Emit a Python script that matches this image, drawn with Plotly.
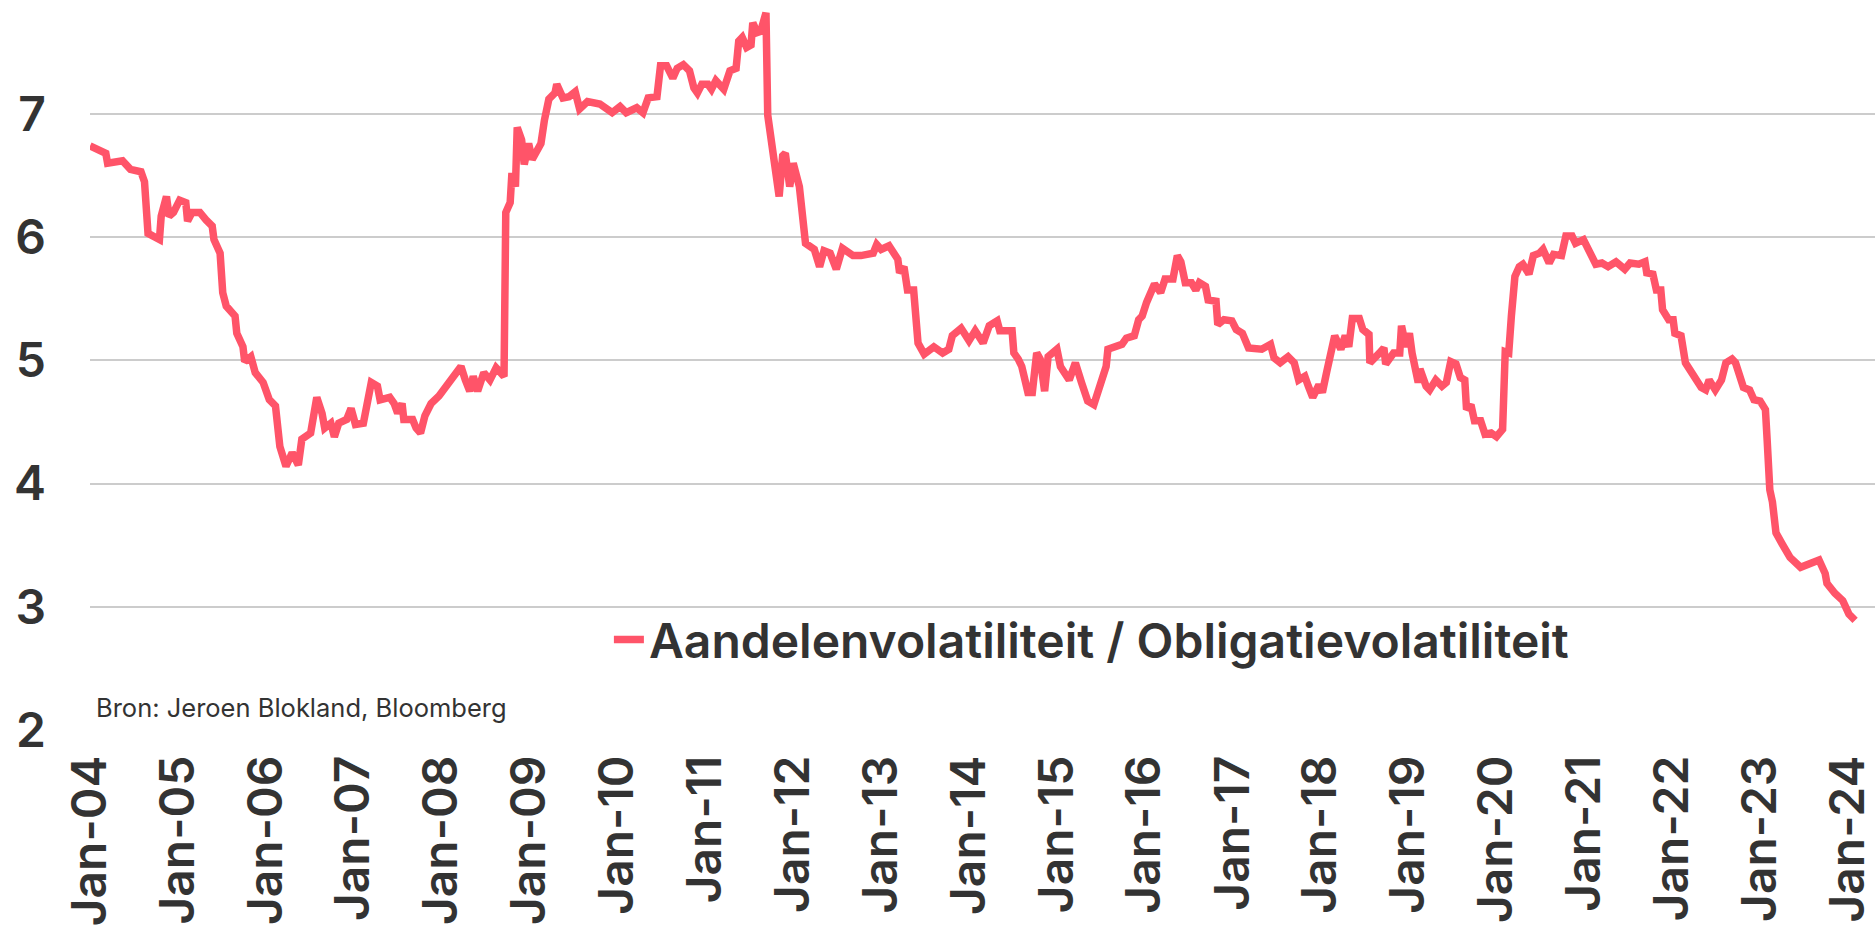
import pandas as pd
import plotly.graph_objects as go

# Decimal years and ratio values
years = [
    2004.00, 2004.18, 2004.20, 2004.37, 2004.46, 2004.58, 2004.62, 2004.66, 2004.79, 2004.81,
    2004.87, 2004.90, 2004.95, 2005.02, 2005.09, 2005.11, 2005.16, 2005.25, 2005.32, 2005.39,
    2005.41, 2005.48, 2005.51, 2005.55, 2005.65, 2005.67, 2005.74, 2005.76, 2005.83, 2005.88,
    2005.97, 2006.04, 2006.11, 2006.16, 2006.23, 2006.30, 2006.37, 2006.41, 2006.51, 2006.58,
    2006.64, 2006.67, 2006.74, 2006.78, 2006.83, 2006.92, 2006.97, 2007.02, 2007.11, 2007.16,
    2007.20, 2007.27, 2007.30, 2007.41, 2007.46, 2007.50, 2007.55, 2007.57, 2007.67, 2007.71,
    2007.76, 2007.81, 2007.88, 2007.97, 2008.02, 2008.08, 2008.15, 2008.22, 2008.27, 2008.32,
    2008.36, 2008.41, 2008.48, 2008.55, 2008.62, 2008.66, 2008.71, 2008.73, 2008.78, 2008.80,
    2008.84, 2008.86, 2008.91, 2008.94, 2008.99, 2009.03, 2009.08, 2009.13, 2009.17, 2009.22,
    2009.29, 2009.31, 2009.38, 2009.45, 2009.52, 2009.57, 2009.66, 2009.80, 2009.94,
    2010.03, 2010.10, 2010.22, 2010.29, 2010.35, 2010.45, 2010.49, 2010.56, 2010.63, 2010.68,
    2010.75, 2010.82, 2010.87, 2010.91, 2010.96, 2011.03, 2011.07, 2011.12, 2011.21, 2011.28,
    2011.35, 2011.38, 2011.42, 2011.47, 2011.52, 2011.54, 2011.59, 2011.63, 2011.69, 2011.71,
    2011.75, 2011.79, 2011.84, 2011.88, 2011.91, 2011.96, 2012.00, 2012.07, 2012.10, 2012.14,
    2012.24, 2012.30, 2012.35, 2012.42, 2012.49, 2012.56, 2012.68, 2012.77, 2012.91, 2012.95,
    2013.00, 2013.09, 2013.19, 2013.21, 2013.26, 2013.30, 2013.37, 2013.42, 2013.49, 2013.60,
    2013.70, 2013.77, 2013.81, 2013.91, 2014.00, 2014.07, 2014.16, 2014.23, 2014.32, 2014.35,
    2014.49, 2014.51, 2014.56, 2014.60, 2014.67, 2014.72, 2014.77, 2014.81, 2014.86, 2014.90,
    2015.00, 2015.04, 2015.14, 2015.21, 2015.28, 2015.35, 2015.42, 2015.49, 2015.56, 2015.58,
    2015.67, 2015.74, 2015.79, 2015.88, 2015.93, 2015.97, 2016.02, 2016.07, 2016.11, 2016.18,
    2016.23, 2016.32, 2016.37, 2016.41, 2016.46, 2016.53, 2016.58, 2016.62, 2016.69, 2016.72,
    2016.81, 2016.83, 2016.90, 2016.99, 2017.04, 2017.11, 2017.18,
    2017.33, 2017.43, 2017.47, 2017.54, 2017.63, 2017.70, 2017.75, 2017.82, 2017.86, 2017.91,
    2017.98, 2018.02, 2018.07, 2018.12, 2018.16, 2018.23, 2018.28, 2018.32, 2018.36, 2018.44,
    2018.48, 2018.55, 2018.56, 2018.67, 2018.72, 2018.74, 2018.83, 2018.90, 2018.92, 2018.97,
    2019.01, 2019.04, 2019.11, 2019.13, 2019.20, 2019.24, 2019.31, 2019.38, 2019.43, 2019.48,
    2019.54, 2019.59, 2019.64, 2019.66, 2019.71, 2019.75, 2019.82, 2019.87, 2019.94, 2020.00,
    2020.07, 2020.10, 2020.14, 2020.17, 2020.21, 2020.26, 2020.30, 2020.37, 2020.42, 2020.49,
    2020.53, 2020.60, 2020.65, 2020.74, 2020.79, 2020.86, 2020.90, 2020.99, 2021.06, 2021.13,
    2021.20, 2021.27, 2021.36, 2021.46, 2021.52, 2021.62, 2021.69, 2021.71, 2021.78, 2021.82,
    2021.87, 2021.89, 2021.96, 2022.01, 2022.03, 2022.10, 2022.15, 2022.22, 2022.28, 2022.33,
    2022.38, 2022.42, 2022.49, 2022.56, 2022.61, 2022.68, 2022.72, 2022.77, 2022.81, 2022.88,
    2022.93, 2023.00, 2023.06, 2023.08, 2023.11, 2023.14, 2023.18, 2023.25, 2023.34, 2023.46,
    2023.57, 2023.67, 2023.74, 2023.76, 2023.85, 2023.94, 2024.01, 2024.08,
]

ratio = [
    6.74, 6.68, 6.60, 6.62, 6.55, 6.53, 6.45, 6.03, 5.98, 6.17,
    6.33, 6.17, 6.20, 6.30, 6.28, 6.13, 6.20, 6.20, 6.14, 6.09,
    5.98, 5.87, 5.55, 5.44, 5.36, 5.22, 5.11, 4.99, 5.03, 4.90,
    4.82, 4.68, 4.63, 4.30, 4.14, 4.25, 4.15, 4.36, 4.41, 4.70,
    4.57, 4.45, 4.49, 4.38, 4.49, 4.52, 4.61, 4.48, 4.49, 4.65,
    4.82, 4.79, 4.68, 4.70, 4.65, 4.57, 4.65, 4.52, 4.52, 4.45,
    4.41, 4.55, 4.65, 4.71, 4.76, 4.82, 4.90, 4.95, 4.84, 4.75,
    4.87, 4.75, 4.90, 4.84, 4.94, 4.90, 4.87, 6.20, 6.28, 6.52,
    6.41, 6.89, 6.79, 6.59, 6.76, 6.63, 6.71, 6.76, 6.95, 7.12,
    7.17, 7.24, 7.13, 7.14, 7.18, 7.04, 7.10, 7.08, 7.01,
    7.06, 7.01, 7.05, 7.01, 7.13, 7.14, 7.39, 7.39, 7.29, 7.37,
    7.40, 7.35, 7.21, 7.17, 7.24, 7.24, 7.20, 7.27, 7.20, 7.35,
    7.37, 7.59, 7.62, 7.54, 7.56, 7.74, 7.66, 7.67, 7.82, 6.99,
    6.79, 6.68, 6.33, 6.66, 6.68, 6.41, 6.60, 6.41, 6.17, 5.95,
    5.90, 5.76, 5.89, 5.87, 5.74, 5.91, 5.85, 5.85, 5.87, 5.94,
    5.90, 5.93, 5.82, 5.71, 5.76, 5.57, 5.57, 5.14, 5.05, 5.11,
    5.06, 5.09, 5.20, 5.26, 5.16, 5.24, 5.14, 5.28, 5.32, 5.24,
    5.24, 5.06, 5.01, 4.95, 4.74, 4.74, 5.06, 5.01, 4.75, 5.03,
    5.09, 4.95, 4.84, 4.98, 4.82, 4.67, 4.64, 4.82, 4.95, 5.09,
    5.11, 5.13, 5.18, 5.20, 5.33, 5.36, 5.47, 5.56, 5.62, 5.55,
    5.66, 5.66, 5.85, 5.80, 5.63, 5.63, 5.57, 5.63, 5.60, 5.49,
    5.48, 5.29, 5.33, 5.32, 5.25, 5.22, 5.10,
    5.09, 5.13, 5.02, 4.98, 5.03, 4.98, 4.84, 4.87, 4.79, 4.70,
    4.80, 4.74, 4.91, 5.06, 5.20, 5.09, 5.20, 5.11, 5.34, 5.34,
    5.25, 5.21, 4.98, 5.06, 5.10, 4.97, 5.06, 5.06, 5.28, 5.11,
    5.22, 5.06, 4.82, 4.93, 4.79, 4.76, 4.84, 4.79, 4.82, 4.99,
    4.97, 4.86, 4.84, 4.60, 4.64, 4.51, 4.51, 4.40, 4.41, 4.38,
    4.44, 5.07, 5.06, 5.36, 5.68, 5.76, 5.78, 5.70, 5.85, 5.87,
    5.90, 5.79, 5.86, 5.85, 6.01, 6.01, 5.95, 5.98, 5.87, 5.78,
    5.79, 5.76, 5.80, 5.74, 5.79, 5.78, 5.80, 5.71, 5.70, 5.57,
    5.57, 5.41, 5.33, 5.33, 5.22, 5.20, 4.98, 4.90, 4.82, 4.78,
    4.76, 4.84, 4.76, 4.84, 4.98, 5.01, 4.98, 4.84, 4.78, 4.76,
    4.68, 4.67, 4.60, 4.35, 3.95, 3.85, 3.60, 3.51, 3.40, 3.32,
    3.35, 3.38, 3.27, 3.19, 3.11, 3.05, 2.94, 2.89,
]

tick_years = list(range(2004, 2025))
tick_labels = ["Jan-%02d" % (y % 100) for y in tick_years]

series_name = "Aandelenvolatiliteit / Obligatievolatiliteit"
source_text = "Bron: Jeroen Blokland, Bloomberg"

base = pd.Timestamp("2004-01-01")
dates = [base + pd.Timedelta(days=(y - 2004) * 365.25) for y in years]
tick_vals = [pd.Timestamp(f"{y}-01-01") for y in tick_years]

TEXT = "#333333"
LINE = "#ff5469"
FONT = "Inter"

fig = go.Figure()
fig.add_trace(go.Scatter(
    x=dates, y=ratio, mode="lines", name=series_name,
    line=dict(color=LINE, width=7.5),
))

fig.update_layout(
    template="none",
    width=1875, height=927,
    margin=dict(l=90, r=0, t=3, b=197, autoexpand=False),
    paper_bgcolor="white", plot_bgcolor="white",
    font=dict(family=FONT, color=TEXT),
    showlegend=True,
    legend=dict(
        orientation="h", x=0.2907, xanchor="left", y=0.124, yanchor="middle",
        font=dict(family=FONT, size=48, color=TEXT, weight=600),
        bgcolor="rgba(0,0,0,0)", borderwidth=0,
    ),
    xaxis=dict(
        type="date", automargin=False,
        range=[pd.Timestamp("2004-01-01"), pd.Timestamp("2024-04-22")],
        tickmode="array", tickvals=tick_vals, ticktext=tick_labels,
        tickangle=-90, ticklabelstandoff=15, ticklabeloverflow="allow",
        tickfont=dict(family=FONT, size=48, color=TEXT, weight=600),
        showgrid=False, zeroline=False, showline=False, ticks="",
    ),
    yaxis=dict(
        automargin=False,
        range=[2, 7.9], tickmode="linear", tick0=2, dtick=1,
        tickfont=dict(family=FONT, size=48, color=TEXT, weight=600),
        ticklabelstandoff=43,
        showgrid=True, gridcolor="#cccccc", gridwidth=1.5,
        zeroline=False, showline=False, ticks="",
    ),
    annotations=[dict(
        text=source_text, xref="paper", yref="paper",
        x=0.002, y=0.0316, xanchor="left", yanchor="middle",
        showarrow=False, font=dict(family=FONT, size=25.5, color=TEXT),
    )],
)

fig.write_html(
    "out.html",
    config={"displayModeBar": False},
    post_script="document.body.style.margin='0px';",
)
